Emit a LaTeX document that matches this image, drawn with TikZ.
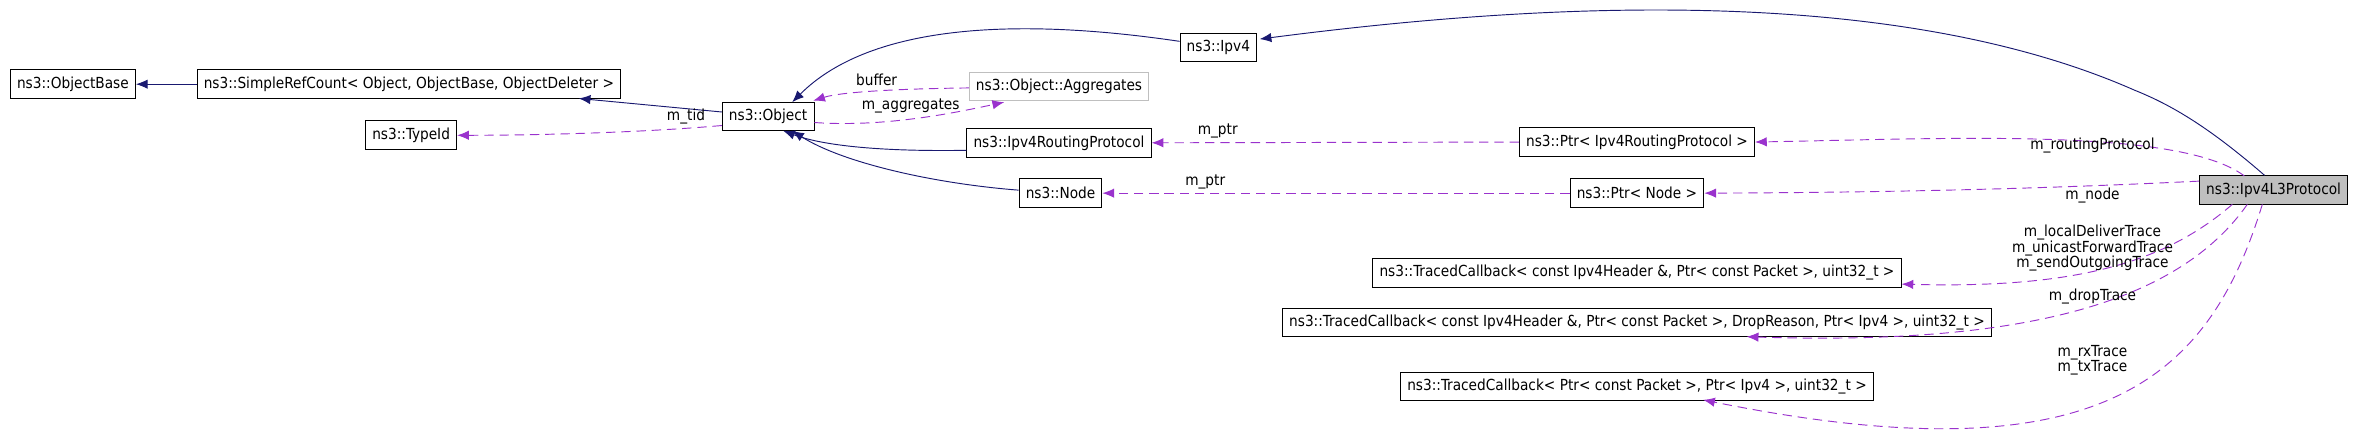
\documentclass[tikz,border=0pt]{standalone}
\usepackage{fontspec}
\setmainfont{DejaVu Sans Condensed}
\usepackage{xcolor}
\usepackage{tikz}
\usetikzlibrary{arrows.meta}
\definecolor{inh}{HTML}{191970}
\definecolor{use}{HTML}{9A32CD}
\definecolor{lgray}{HTML}{BFBFBF}
\definecolor{fgray}{HTML}{BFBFBF}
\begin{document}
\begin{tikzpicture}[x=0.0451cm, y=-0.0451cm,
  font=\fontsize{13}{15}\selectfont,
  cls/.style={draw, thick, minimum height=0.86cm, inner xsep=0.2cm, inner ysep=0pt},
  inh/.style={color=inh, thick, -{Latex[length=10pt,width=8pt]}},
  use/.style={color=use, thick, dashed, dash pattern=on 8pt off 5pt, -{Latex[length=10pt,width=8pt]}},
  lbl/.style={text=black, font=\fontsize{13}{15}\selectfont, align=center}]
\useasboundingbox (0,0) rectangle (1568,298);
% the classes
\node[cls] (objbase) at (48.5,56) {ns3::ObjectBase};
\node[cls] (refcount) at (272,56) {ns3::SimpleRefCount< Object, ObjectBase, ObjectDeleter >};
\node[cls] (typeid) at (273.5,90) {ns3::TypeId};
\node[cls] (object) at (511,77.5) {ns3::Object};
\node[cls] (ipv4) at (810.5,31.5) {ns3::Ipv4};
\node[cls, draw=lgray] (aggr) at (704.5,57.5) {ns3::Object::Aggregates};
\node[cls] (routing) at (704.5,95) {ns3::Ipv4RoutingProtocol};
\node[cls] (node) at (705.5,128.5) {ns3::Node};
\node[cls] (ptrrouting) at (1089,94.5) {ns3::Ptr< Ipv4RoutingProtocol >};
\node[cls] (ptrnode) at (1089,128.5) {ns3::Ptr< Node >};
\node[cls] (tcA) at (1089,181.5) {ns3::TracedCallback< const Ipv4Header \&, Ptr< const Packet >, uint32\_t >};
\node[cls] (tcB) at (1089,214.5) {ns3::TracedCallback< const Ipv4Header \&, Ptr< const Packet >, DropReason, Ptr< Ipv4 >, uint32\_t >};
\node[cls] (tcC) at (1089,257) {ns3::TracedCallback< Ptr< const Packet >, Ptr< Ipv4 >, uint32\_t >};
\node[cls, fill=fgray] (l3) at (1512.5,126.5) {ns3::Ipv4L3Protocol};

% inheritance
\draw[inh] (refcount.west) -- (objbase.east);
\draw[inh] (object.west) ++(0,-3) -- (385,65.5);
\draw[inh] (ipv4.west) ++(0,-4) .. controls (680,12) and (580,15) .. (527,68);
\draw[inh] (routing.west) ++(0,5) .. controls (580,101) and (545,96) .. (521,87);
\draw[inh] (node.west) ++(0,-2) .. controls (620,122) and (560,108) .. (527,87);
\draw[inh] (l3.north) ++(-6,0) .. controls (1470,85) and (1445,70) .. (1420,60)
  .. controls (1250,-15) and (1000,5) .. (838,26);

% usage
\draw[use] (object.west) ++(0,6) .. controls (430,88) and (360,90) .. (typeid.east)
  node[lbl, pos=0.15, above] {m\_tid};
\draw[use] (aggr.west) ++(0,1) .. controls (600,59) and (560,61) .. (541,67)
  node[lbl, pos=0.5, above=1pt] {buffer};
\draw[use] (object.east) ++(0,4) .. controls (590,85) and (640,74) .. (668,68)
  node[lbl, pos=0.45, above=1pt] {m\_aggregates};
\draw[use] (ptrrouting.west) -- (routing.east) node[lbl, pos=0.82, above] {m\_ptr};
\draw[use] (ptrnode.west) -- (node.east) node[lbl, pos=0.78, above] {m\_ptr};
\draw[use] (1493,117) .. controls (1450,85) and (1300,92) .. (ptrrouting.east);
\node[lbl] at (1392,97) {m\_routingProtocol};
\draw[use] (l3.west) ++(0,-6) .. controls (1350,126) and (1250,128) .. (ptrnode.east);
\node[lbl] at (1392,130) {m\_node};
\draw[use] (1485,136) .. controls (1440,175) and (1380,192) .. (1265,189);
\node[lbl] at (1392,165) {m\_localDeliverTrace\\[-2pt]m\_unicastForwardTrace\\[-2pt]m\_sendOutgoingTrace};
\draw[use] (1495,136) .. controls (1450,200) and (1350,230) .. (1162,224);
\node[lbl] at (1392,197.5) {m\_dropTrace};
\draw[use] (1505,136) .. controls (1470,250) and (1400,320) .. (1133,266);
\node[lbl] at (1392,239.5) {m\_rxTrace\\[-2pt]m\_txTrace};
\end{tikzpicture}
\end{document}
